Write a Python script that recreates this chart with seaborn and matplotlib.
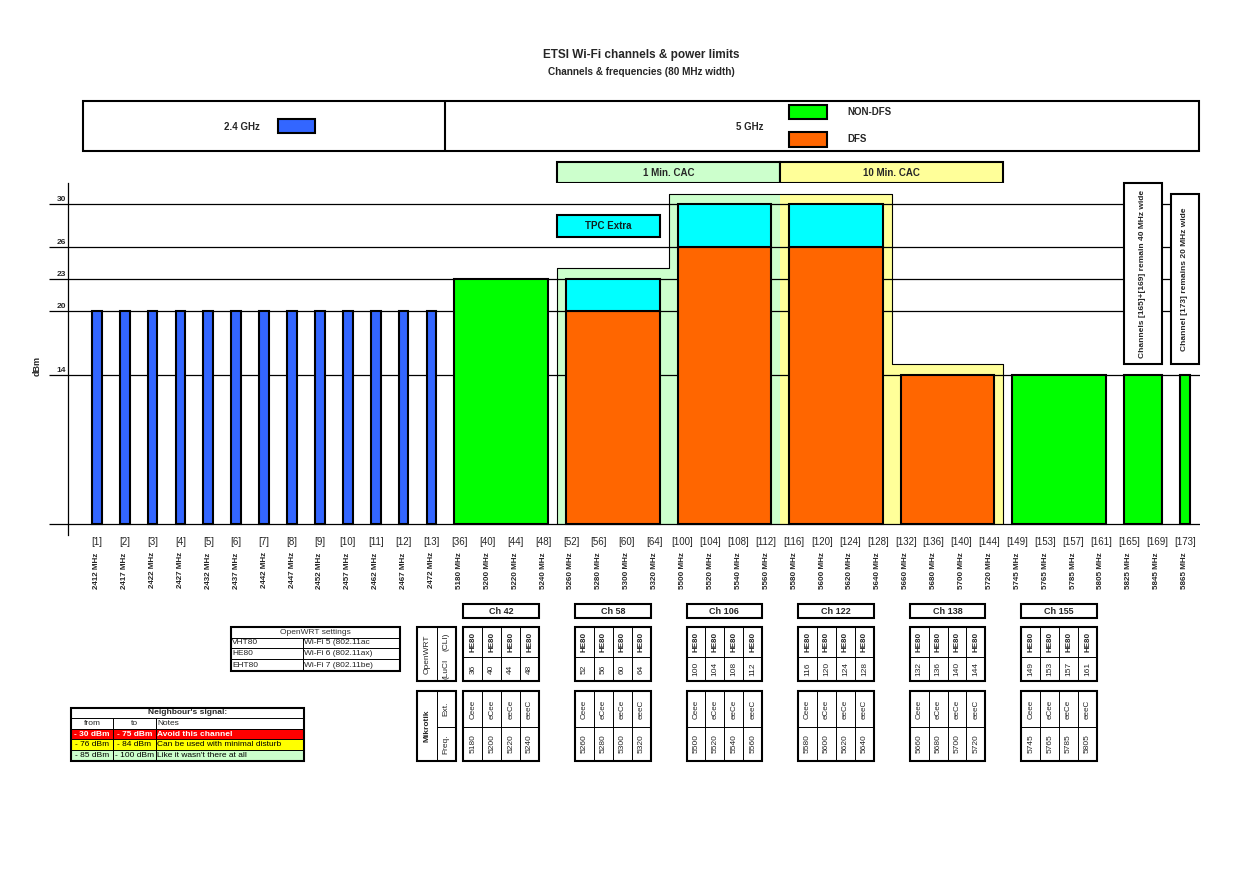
import matplotlib
matplotlib.use("Agg")
import matplotlib.pyplot as plt
import matplotlib.transforms as mtransforms
from matplotlib.patches import Rectangle
import numpy as np
import pandas as pd
import seaborn as sns

# ---- data ----
channels_24 = [1, 2, 3, 4, 5, 6, 7, 8, 9, 10, 11, 12, 13]
freqs_24 = [2412, 2417, 2422, 2427, 2432, 2437, 2442, 2447, 2452, 2457, 2462, 2467, 2472]
power_24 = [20, 20, 20, 20, 20, 20, 20, 20, 20, 20, 20, 20, 20]

channels_5 = [36, 40, 44, 48, 52, 56, 60, 64, 100, 104, 108, 112, 116, 120, 124, 128,
              132, 136, 140, 144, 149, 153, 157, 161, 165, 169, 173]
freqs_5 = [5180, 5200, 5220, 5240, 5260, 5280, 5300, 5320, 5500, 5520, 5540, 5560,
           5580, 5600, 5620, 5640, 5660, 5680, 5700, 5720, 5745, 5765, 5785, 5805,
           5825, 5845, 5865]

block_channels = [[36, 40, 44, 48], [52, 56, 60, 64], [100, 104, 108, 112],
                  [116, 120, 124, 128], [132, 136, 140, 144], [149, 153, 157, 161],
                  [165, 169], [173]]
block_power = [23, 20, 26, 26, 14, 14, 14, 14]
block_tpc = [0, 3, 4, 4, 0, 0, 0, 0]
block_dfs = [False, True, True, True, True, False, False, False]

cac_blocks = [1, 2, 3, 4]
cac_level = [24, 31, 31, 15]
cac_kind = ["1 Min. CAC", "1 Min. CAC", "10 Min. CAC", "10 Min. CAC"]

yticks = [0, 14, 20, 23, 26, 30]

table_names = ["Ch 42", "Ch 58", "Ch 106", "Ch 122", "Ch 138", "Ch 155"]
mikrotik_ext = ["Ceee", "eCee", "eeCe", "eeeC"]

openwrt_modes = ["VHT80", "HE80", "EHT80"]
openwrt_std = ["Wi-Fi 5 (802.11ac", "Wi-Fi 6 (802.11ax)", "Wi-Fi 7 (802.11be)"]

signal_from = ["- 30 dBm", "- 76 dBm", "- 85 dBm"]
signal_to = ["- 75 dBm", "- 84 dBm", "- 100 dBm"]
signal_notes = ["Avoid this channel", "Can be used with minimal disturb", "Like it wasn't there at all"]

BLUE = "#3366FF"
GREEN = "#00FF00"
ORANGE = "#FF6600"
CYAN = "#00FFFF"
LGREEN = "#CCFFCC"
LYELLOW = "#FFFF99"

sns.set_style("white")
plt.rcParams["font.family"] = ["Liberation Sans", "DejaVu Sans"]

all_channels = channels_24 + channels_5
all_freqs = freqs_24 + freqs_5
slot = {ch: i for i, ch in enumerate(all_channels)}
block_center = [np.mean([slot[c] for c in chs]) for chs in block_channels]
block_width = [len(chs) - 0.65 for chs in block_channels]

fig = plt.figure(figsize=(12.42, 8.76), dpi=100)
ov = fig.add_axes([0, 0, 1, 1])
ov.set_xlim(0, 1242)
ov.set_ylim(876, 0)
ov.axis("off")

ax = fig.add_axes([68 / 1242, 1 - 535 / 876, (1200 - 68) / 1242, (535 - 183) / 876])

# 2.4 GHz bars
df24 = pd.DataFrame({"slot": [slot[c] for c in channels_24], "dBm": power_24})
sns.barplot(data=df24, x="slot", y="dBm", native_scale=True, width=0.35, color=BLUE,
            saturation=1, edgecolor="black", linewidth=1.5, errorbar=None, ax=ax, zorder=2)

# CAC background regions
for b, lvl, kind in zip(cac_blocks, cac_level, cac_kind):
    ax.bar(block_center[b], lvl, width=4, color=LGREEN if kind.startswith("1 ") else LYELLOW,
           linewidth=0, zorder=0.3)
px = [block_center[cac_blocks[0]] - 2]
py = [0]
for b, lvl in zip(cac_blocks, cac_level):
    px += [block_center[b] - 2, block_center[b] + 2]
    py += [lvl, lvl]
px.append(block_center[cac_blocks[-1]] + 2)
py.append(0)
ax.plot(px, py, color="black", lw=0.8, zorder=0.4)

# 5 GHz bars
ax.bar(block_center, block_power, width=block_width,
       color=[ORANGE if d else GREEN for d in block_dfs],
       edgecolor="black", linewidth=1.5, zorder=2)
tpc_idx = [i for i, t in enumerate(block_tpc) if t > 0]
ax.bar([block_center[i] for i in tpc_idx], [block_tpc[i] for i in tpc_idx],
       bottom=[block_power[i] for i in tpc_idx], width=[block_width[i] for i in tpc_idx],
       color=CYAN, edgecolor="black", linewidth=1.5, zorder=2)

# axes styling
ax.set_xlim(-1.03, 39.55)
ax.set_ylim(-1, 32)
ax.set_xlabel("")
ax.set_ylabel("")
ax.set_yticks(yticks)
ax.set_yticklabels([""] * len(yticks))
ax.set_axisbelow(True)
ax.yaxis.grid(True, color="black", linewidth=0.9)
ax.tick_params(axis="y", direction="out", length=13.7, width=0.9, color="black", left=True)
ax.set_xticks(range(len(all_channels)))
ax.set_xticklabels([f"[{c}]" for c in all_channels], fontsize=7)
ax.tick_params(axis="x", length=0, pad=1.5)
for s in ["top", "right", "bottom"]:
    ax.spines[s].set_visible(False)
ax.spines["left"].set_color("black")
ax.spines["left"].set_linewidth(0.9)

for v in yticks[1:]:
    ax.annotate(str(v), xy=(0, v), xycoords=("axes fraction", "data"), xytext=(-1.2, 0.6),
                textcoords="offset points", ha="right", va="bottom", fontsize=6, fontweight="bold")
for i, f in enumerate(all_freqs):
    ax.annotate(f"{f} MHz", xy=(i, 0), xycoords=("data", "axes fraction"), xytext=(0, -12.5),
                textcoords="offset points", rotation=90, ha="center", va="top",
                fontsize=5.8, fontweight="bold")

# TPC Extra box
x0 = block_center[1] - 2
ax.add_patch(Rectangle((x0, 26.9), 3.7, 2.1, facecolor=CYAN, edgecolor="black", lw=1.5, zorder=3))
ax.text(x0 + 1.85, 27.95, "TPC Extra", ha="center", va="center", fontsize=7,
        fontweight="bold", color="#102020", zorder=4)

# vertical note boxes
b6 = 6
ax.add_patch(Rectangle((block_center[b6] - block_width[b6] / 2, 15), block_width[b6], 17,
                       facecolor="white", edgecolor="black", lw=1.5, zorder=3, clip_on=False))
ax.text(block_center[b6], 23.5, "Channels [165]+[169] remain 40 MHz wide", rotation=90,
        ha="center", va="center", fontsize=6, fontweight="bold", zorder=4)
ax.add_patch(Rectangle((38.5, 15), 1.0, 16, facecolor="white", edgecolor="black", lw=1.5,
                       zorder=3, clip_on=False))
ax.text(39.0, 23, "Channel [173] remains 20 MHz wide", rotation=90,
        ha="center", va="center", fontsize=6, fontweight="bold", zorder=4)

# ---- outside the plot area ----
tb = mtransforms.blended_transform_factory(ax.transData, ov.transData)
tp = ov.transData


def rect(x0, y0, x1, y1, tr, lw=0.8, fc="none", ec="black", z=3):
    ov.add_patch(Rectangle((x0, y0), x1 - x0, y1 - y0, transform=tr, facecolor=fc,
                           edgecolor=ec, linewidth=lw, clip_on=False, zorder=z))


def line(xs, ys, tr, lw=0.7):
    ov.plot(xs, ys, color="black", lw=lw, transform=tr, clip_on=False, zorder=4,
            solid_capstyle="butt")


def txt(x, y, s, tr, **kw):
    kw.setdefault("fontsize", 6)
    kw.setdefault("ha", "center")
    kw.setdefault("va", "center")
    ov.text(x, y, s, transform=tr, zorder=5, **kw)


# titles
txt(641, 55, "ETSI Wi-Fi channels & power limits", tp, fontsize=8.5, fontweight="bold")
txt(641, 72, "Channels & frequencies (80 MHz width)", tp, fontsize=7.2, fontweight="bold")
txt(37, 366, "dBm", tp, fontsize=6.5, fontweight="bold", rotation=90)

# band legend
rect(82.7, 100.7, 1199, 150.7, tp, lw=1.5)
line([445, 445], [100.7, 150.7], tp, lw=1.5)
txt(242, 126.7, "2.4 GHz", tp, fontsize=7, fontweight="bold")
rect(277.7, 118.7, 315, 133, tp, lw=1.5, fc=BLUE)
txt(749.6, 126.7, "5 GHz", tp, fontsize=7, fontweight="bold")
rect(789.3, 105.3, 827.3, 119.3, tp, lw=1.5, fc=GREEN)
rect(789.3, 132, 827.3, 146.7, tp, lw=1.5, fc=ORANGE)
txt(847.3, 112.3, "NON-DFS", tp, fontsize=7, fontweight="bold", ha="left")
txt(847.3, 138.7, "DFS", tp, fontsize=7, fontweight="bold", ha="left")

# CAC header boxes
for kind, fc in [("1 Min. CAC", LGREEN), ("10 Min. CAC", LYELLOW)]:
    bs = [b for b, k in zip(cac_blocks, cac_kind) if k == kind]
    xl = block_center[bs[0]] - 2
    xr = block_center[bs[-1]] + 2
    rect(xl, 161.7, xr, 183.3, tb, lw=1.5, fc=fc)
    txt((xl + xr) / 2, 172.5, kind, tb, fontsize=7, fontweight="bold")

# channel tables
hw = 1.357
for i, name in enumerate(table_names):
    c = block_center[i]
    xl, xr = c - hw, c + hw
    cw = (xr - xl) / 4
    rect(xl, 604.3, xr, 618.3, tb, lw=1.5, fc="white")
    txt(c, 611.3, name, tb, fontsize=6.5, fontweight="bold")
    for y0, ym, y1 in [(626.7, 657.3, 681), (691, 726.7, 761)]:
        rect(xl, y0, xr, y1, tb, lw=1.5, fc="white")
        line([xl, xr], [ym, ym], tb)
        for k in range(1, 4):
            line([xl + k * cw, xl + k * cw], [y0, y1], tb)
    for k, ch in enumerate(block_channels[i]):
        xc = xl + (k + 0.5) * cw
        txt(xc, 642, "HE80", tb, fontsize=5.8, fontweight="bold", rotation=90)
        txt(xc, 669.2, str(ch), tb, fontsize=6, rotation=90)
        txt(xc, 708.9, mikrotik_ext[k], tb, fontsize=5.8, rotation=90)
        txt(xc, 743.9, str(freqs_5[channels_5.index(ch)]), tb, fontsize=6, rotation=90)

# row headers for channel tables
rect(417.3, 626.7, 456, 681, tp, lw=1.5, fc="white")
line([436.7, 436.7], [626.7, 681], tp)
txt(427, 653.9, "OpenWRT", tp, rotation=90)
txt(446.3, 642, "(CLI)", tp, rotation=90)
txt(446.3, 669.2, "(LuCI", tp, rotation=90)
rect(417.3, 691, 456, 761, tp, lw=1.5, fc="white")
line([436.7, 436.7], [691, 761], tp)
line([436.7, 456], [726.7, 726.7], tp)
txt(427, 726, "Mikrotik", tp, rotation=90, fontweight="bold")
txt(446.3, 708.9, "Ext.", tp, rotation=90)
txt(446.3, 743.9, "Freq.", tp, rotation=90)

# OpenWRT settings table
oxs = [230.7, 302.7, 400]
oys = [626.7, 637.7, 648.3, 659.3, 671]
rect(oxs[0], oys[0], oxs[2], oys[-1], tp, lw=1.5, fc="white")
for y in oys[1:-1]:
    line([oxs[0], oxs[2]], [y, y], tp)
line([oxs[1], oxs[1]], [oys[1], oys[-1]], tp)
txt((oxs[0] + oxs[2]) / 2, (oys[0] + oys[1]) / 2, "OpenWRT settings", tp, color="#333333")
for r, (m, s) in enumerate(zip(openwrt_modes, openwrt_std)):
    yc = (oys[r + 1] + oys[r + 2]) / 2
    txt(oxs[0] + 1.5, yc, m, tp, ha="left", color="#222222")
    txt(oxs[1] + 1.5, yc, s, tp, ha="left", color="#222222")

# Neighbour's signal table
nxs = [70.7, 113.3, 155.7, 304.3]
nys = [707.7, 718.3, 729, 739.3, 750, 761]
row_fc = ["white", "white", "#FF0000", "#FFFF00", LGREEN]
for r in range(5):
    rect(nxs[0], nys[r], nxs[-1], nys[r + 1], tp, lw=0, fc=row_fc[r], ec="none", z=2)
rect(nxs[0], nys[0], nxs[-1], nys[-1], tp, lw=1.5)
for y in nys[1:-1]:
    line([nxs[0], nxs[-1]], [y, y], tp)
for x in nxs[1:-1]:
    line([x, x], [nys[1], nys[-1]], tp)
txt((nxs[0] + nxs[-1]) / 2, (nys[0] + nys[1]) / 2, "Neighbour's signal:", tp, fontweight="bold")
yc = (nys[1] + nys[2]) / 2
txt((nxs[0] + nxs[1]) / 2, yc, "from", tp)
txt((nxs[1] + nxs[2]) / 2, yc, "to", tp)
txt(nxs[2] + 1.5, yc, "Notes", tp, ha="left")
for r in range(3):
    yc = (nys[r + 2] + nys[r + 3]) / 2
    kw = {"color": "white", "fontweight": "bold"} if r == 0 else {"color": "black"}
    txt((nxs[0] + nxs[1]) / 2, yc, signal_from[r], tp, **kw)
    txt((nxs[1] + nxs[2]) / 2, yc, signal_to[r], tp, **kw)
    txt(nxs[2] + 1.5, yc, signal_notes[r], tp, ha="left", **kw)

fig.savefig("out.png", dpi=100, facecolor="white")
